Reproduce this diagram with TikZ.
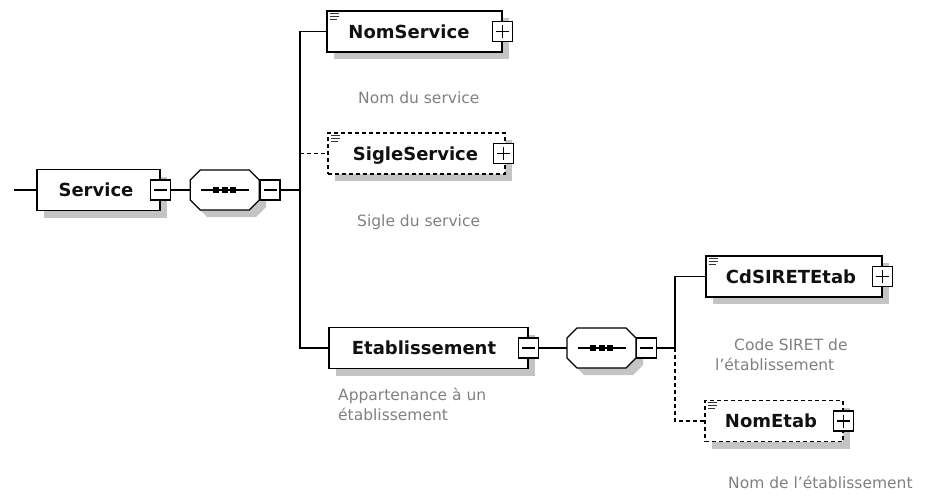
\documentclass[tikz,border=0pt]{standalone}
\usepackage{fontspec}
\setmainfont{DejaVu Sans}
\usetikzlibrary{shadows,calc}
\definecolor{shadowgray}{HTML}{C4C4C4}
\definecolor{desc}{HTML}{808080}
\definecolor{ink}{HTML}{111111}
\tikzset{
  conn/.style={line width=1.2pt, draw=black},
  optconn/.style={conn, dash pattern=on 4pt off 3pt},
  elembox/.style={draw=black, line width=1.2pt, fill=white, rectangle, inner sep=0pt,
    minimum height=41pt, font=\bfseries\fontsize{18}{20}\selectfont, text=ink,
    text height=13pt, text depth=0pt,
    general shadow={fill=shadowgray, draw=none, shadow xshift=7pt, shadow yshift=-7pt}},
  optbox/.style={elembox, dash pattern=on 4pt off 3pt},
  btnbox/.style={draw=black, line width=1.2pt, fill=white, rectangle,
    minimum width=20pt, minimum height=20pt, inner sep=0pt},
  minusbtn/.style={btnbox, path picture={
    \draw[line width=1.1pt] ([xshift=3.5pt]path picture bounding box.west) -- ([xshift=-3.5pt]path picture bounding box.east);}},
  plusbtn/.style={btnbox, path picture={
    \draw[line width=1.1pt] ([xshift=3.5pt]path picture bounding box.west) -- ([xshift=-3.5pt]path picture bounding box.east)
      ([yshift=-3.5pt]path picture bounding box.north) -- ([yshift=3.5pt]path picture bounding box.south);}},
  seqnode/.style={rectangle, draw=none, minimum width=69pt, minimum height=40pt, inner sep=0pt},
  desctext/.style={font=\fontsize{15.5}{20}\selectfont, text=desc, inner sep=0pt, anchor=base west},
}
\newcommand\octpath[2]{({#1-34.5},{#2-10}) -- ({#1-24.5},{#2-20}) -- ({#1+24.5},{#2-20}) -- ({#1+34.5},{#2-10}) -- ({#1+34.5},{#2+10}) -- ({#1+24.5},{#2+20}) -- ({#1-24.5},{#2+20}) -- ({#1-34.5},{#2+10}) -- cycle}
\newcommand\seqgroup[3]{%
  \fill[shadowgray] \octpath{#2+7}{#3+7};
  \draw[line width=1.2pt, fill=white] \octpath{#2}{#3};
  \node[seqnode] (#1) at (#2,#3) {};
  \draw[line width=1.2pt] ({#2-24},#3) -- ({#2+24},#3);
  \fill[black] ({#2-11.5},{#3-3}) rectangle ++(6,6);
  \fill[black] ({#2-3},{#3-3}) rectangle ++(6,6);
  \fill[black] ({#2+5.5},{#3-3}) rectangle ++(6,6);
}
\newcommand\typeicon[1]{%
  \draw[line width=1.1pt, draw=black!80]
    ([xshift=4pt,yshift=-3pt]#1.north west) -- ++(9pt,0pt)
    ([xshift=4pt,yshift=-6pt]#1.north west) -- ++(9pt,0pt)
    ([xshift=4pt,yshift=-9pt]#1.north west) -- ++(7pt,0pt);}
\begin{document}
\begin{tikzpicture}[x=1pt,y=-1pt]
\useasboundingbox (0,0) rectangle (929,498);

% root element
\coordinate (entry) at (14,190);
\node[elembox, minimum width=123pt] (service) at (98.5,190) {Service\hspace*{5pt}};
\node[minusbtn] (serviceBtn) at (service.east) {};
\seqgroup{seq1}{224.7}{190}
\node[minusbtn, anchor=west] (seq1Btn) at (seq1.east) {};
\coordinate (bus1) at (300,190);

% children
\node[elembox, minimum width=175pt] (nomservice) at (414.5,31.5) {NomService\hspace*{11pt}};
\node[plusbtn] (nomserviceBtn) at (nomservice.east) {};
\typeicon{nomservice}

\node[optbox, minimum width=177pt] (sigle) at (416.5,153.5) {SigleService\hspace*{2pt}};
\node[plusbtn] (sigleBtn) at ([xshift=-2pt]sigle.east) {};
\typeicon{sigle}

\node[elembox, minimum width=199pt] (etab) at (428.5,348) {Etablissement\hspace*{9pt}};
\node[minusbtn] (etabBtn) at (etab.east) {};

\seqgroup{seq2}{601.5}{348}
\node[minusbtn, anchor=west] (seq2Btn) at (seq2.east) {};
\coordinate (bus2) at (675,348);

\node[elembox, minimum width=176pt] (cdsiret) at (794,276.5) {CdSIRETEtab\hspace*{6pt}};
\node[plusbtn] (cdsiretBtn) at (cdsiret.east) {};
\typeicon{cdsiret}

\node[optbox, minimum width=138pt] (nometab) at (774,421) {NomEtab\hspace*{6pt}};
\node[plusbtn] (nometabBtn) at (nometab.east) {};
\typeicon{nometab}

% connectors
\draw[conn] (entry) -- (service.west);
\draw[conn] (serviceBtn.east) -- (seq1.west);
\draw[conn] (seq1Btn.east) -- (bus1);
\draw[conn] (bus1) |- (nomservice.west);
\draw[conn] (bus1) |- (etab.west);
\draw[optconn] (bus1 |- sigle.west) -- (sigle.west);
\draw[conn] (etabBtn.east) -- (seq2.west);
\draw[conn] (seq2Btn.east) -- (bus2);
\draw[conn] (bus2) |- (cdsiret.west);
\draw[optconn] (bus2) |- (nometab.west);

% descriptions
\node[desctext] (d1) at (358,103) {Nom du service};
\node[desctext] (d2) at (357,226) {Sigle du service};
\node[desctext] (d3) at (338,400) {Appartenance à un};
\node[desctext] (d3b) at (338,420) {établissement};
\node[desctext] (d4) at (734,350) {Code SIRET de};
\node[desctext] (d4b) at (715,370) {l'établissement};
\node[desctext] (d5) at (728,488) {Nom de l'établissement};
\end{tikzpicture}
\end{document}
